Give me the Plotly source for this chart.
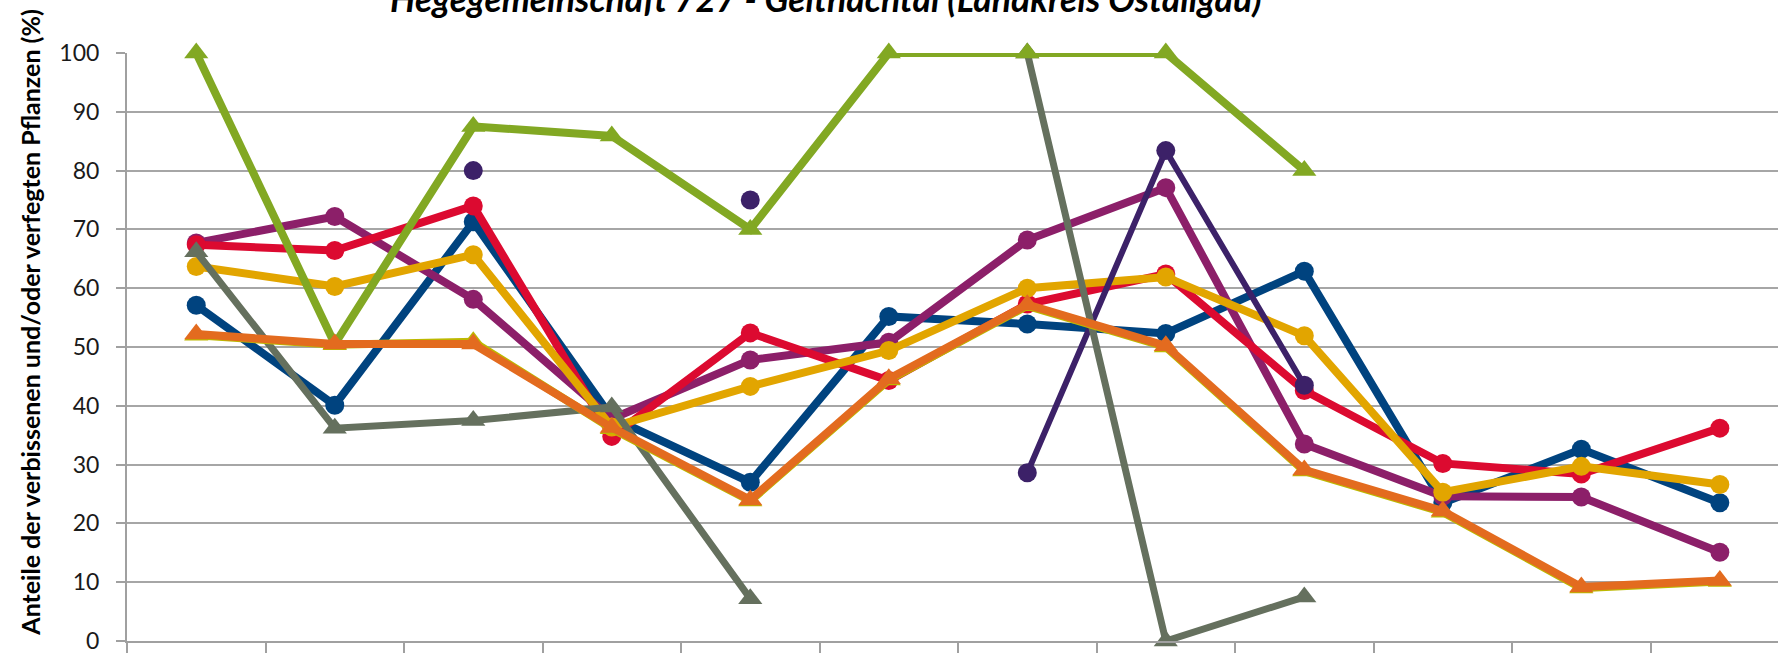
import plotly.graph_objects as go

years = ["1991", "1994", "1997", "2000", "2003", "2006", "2009", "2012", "2015", "2018", "2021", "2024"]

blue = [57.1, 40.1, 71.3, 38.0, 27.0, 55.2, 53.9, 52.3, 62.9, 23.5, 32.6, 23.5]
purple = [67.7, 72.2, 58.1, 37.8, 47.8, 50.8, 68.2, 77.1, 33.5, 24.6, 24.5, 15.1]
red = [67.4, 66.4, 74.0, 34.8, 52.4, 44.3, 57.3, 62.4, 42.6, 30.2, 28.4, 36.2]
gold = [63.7, 60.3, 65.7, 36.4, 43.3, 49.4, 60.0, 61.9, 51.9, 25.3, 29.7, 26.6]
darkpurple = [None, None, 80.0, None, 75.0, None, 28.6, 83.4, 43.5, None, None, None]
gray = [66.2, 36.2, 37.5, 39.8, 7.2, None, 100.0, 0.0, 7.5, None, None, None]
green = [100.0, 50.5, 87.5, 85.9, 70.0, 100.0, 100.0, 100.0, 80.0, None, None, None]
olive = [52.0, 50.4, 50.9, 36.1, 23.8, 44.4, 57.0, 50.0, 28.9, 21.9, 9.0, 10.1]
orange = [52.2, 50.5, 50.5, 36.3, 24.0, 44.6, 57.2, 50.2, 29.1, 22.1, 9.2, 10.3]

series = [
    ("Serie 1", blue, "#00437F", "circle", 8),
    ("Serie 2", purple, "#8C1F69", "circle", 8),
    ("Serie 3", red, "#DC0A30", "circle", 8),
    ("Serie 4", gold, "#E2A500", "circle", 8),
    ("Serie 5", darkpurple, "#3C2168", "circle", 6),
    ("Serie 6", gray, "#65705E", "triangle-up", 7),
    ("Serie 7", green, "#82A823", "triangle-up", 8),
    ("Serie 8", olive, "#BDB800", "triangle-up", 8),
    ("Serie 9", orange, "#E36B1F", "triangle-up", 8),
]

fig = go.Figure()
for name, vals, color, sym, lw in series:
    fig.add_trace(go.Scatter(
        x=years, y=vals, name=name, mode="lines+markers",
        line=dict(color=color, width=lw),
        marker=dict(symbol=sym, size=19 if sym == "circle" else 21, color=color),
        connectgaps=False, cliponaxis=False,
    ))

W, H = 1778, 654
L, R, T, B = 127, 0, 53, 8
fig.update_layout(
    width=W, height=H,
    margin=dict(l=L, r=R, t=T, b=B),
    paper_bgcolor="white", plot_bgcolor="white",
    showlegend=False,
    font=dict(family="Lato", color="#262626"),
)
fig.update_xaxes(
    type="category", range=[-0.5, 11.42],
    showgrid=False, showline=True, linecolor="#A0A0A0", linewidth=2,
    ticks="outside", tickson="boundaries", ticklen=10, tickcolor="#A0A0A0", tickwidth=1.5,
    showticklabels=False,
)
fig.update_yaxes(
    range=[0, 100], tickvals=list(range(0, 101, 10)),
    showgrid=True, gridcolor="#A6A6A6", gridwidth=2,
    showline=True, linecolor="#A0A0A0", linewidth=2,
    ticks="outside", ticklen=9, tickcolor="#A0A0A0", tickwidth=1.5,
    tickfont=dict(family="Lato", size=23, color="#1A1A1A"),
    ticklabelstandoff=12, ticklabeloverflow="allow",
    zeroline=False,
)

pw = W - L - R
ph = H - T - B
fig.add_annotation(
    text="<b><i>Hegegemeinschaft 727 - Geltnachtal (Landkreis Ostallgäu)</i></b>",
    xref="paper", yref="paper", x=(826 - L) / pw, y=(H - B + 2) / ph,
    xanchor="center", yanchor="middle", showarrow=False,
    font=dict(family="Lato", size=35.5, color="#000000"),
)
fig.add_annotation(
    text="<b>Anteile der verbissenen und/oder verfegten Pflanzen (%)</b>",
    xref="paper", yref="paper", x=(30 - L) / pw, y=(H - B - 325) / ph,
    xanchor="center", yanchor="middle", textangle=-90, showarrow=False,
    font=dict(family="Lato", size=25, color="#000000"),
)

fig.write_html(
    "out.html",
    config={"displayModeBar": False},
    post_script="document.body.style.margin='0';document.body.style.overflow='hidden';",
)
